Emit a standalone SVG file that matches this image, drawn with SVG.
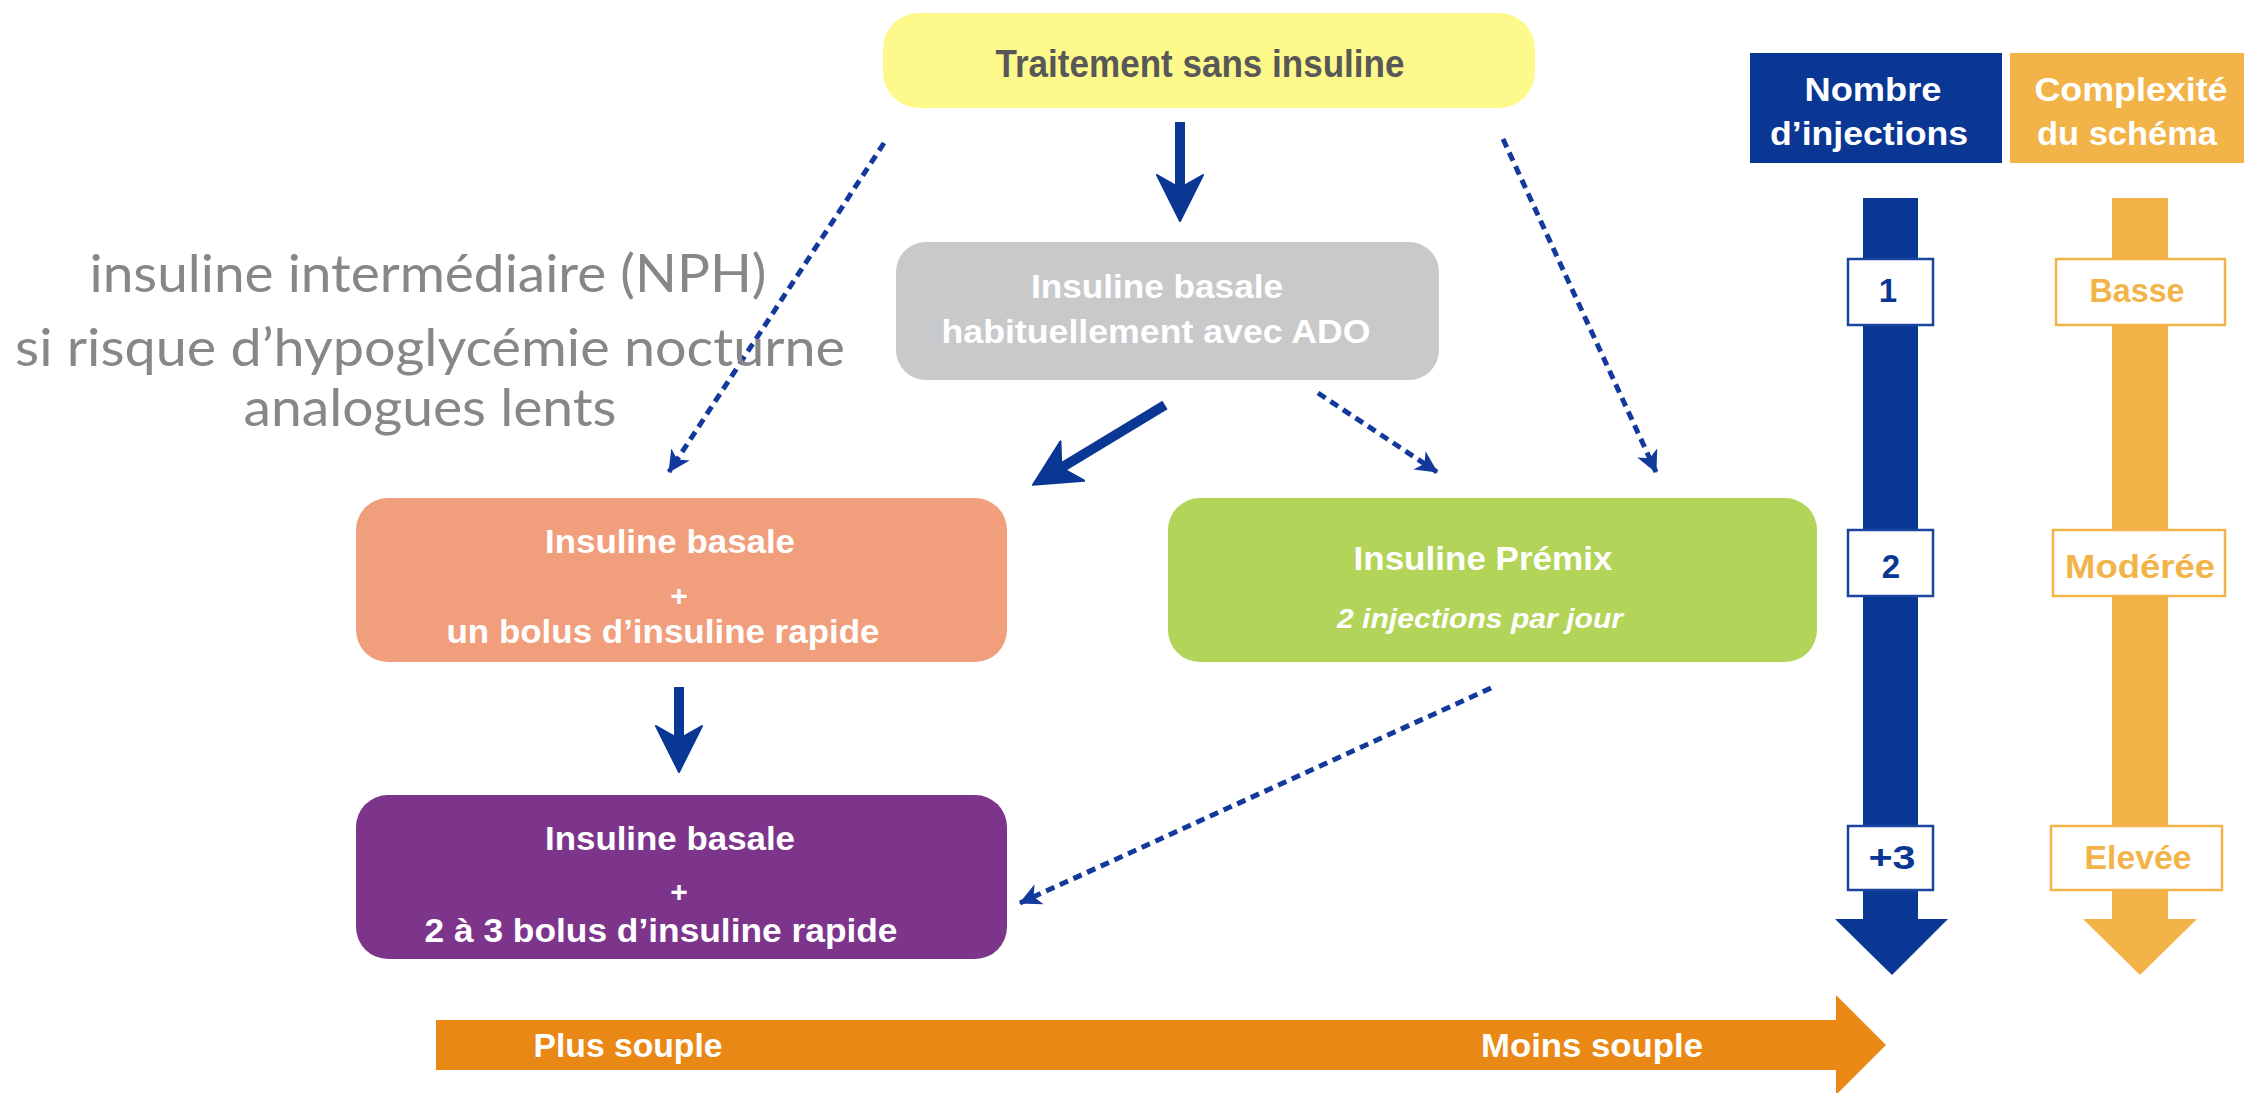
<svg xmlns="http://www.w3.org/2000/svg" width="2244" height="1093" viewBox="0 0 2244 1093">
<style>
.nt{font-family:"Liberation Sans",Arial,sans-serif;font-weight:bold;text-anchor:middle;fill:#ffffff}
.note{font-family:Lato,"Open Sans",sans-serif;font-size:52px;fill:#878787;text-anchor:middle}
.hd{font-family:"Liberation Sans",Arial,sans-serif;font-weight:bold;font-size:33px;fill:#ffffff;text-anchor:middle}
.lbl{font-family:"Liberation Sans",Arial,sans-serif;font-weight:bold;font-size:33px;text-anchor:middle}
.solid{stroke:#0a3694;stroke-width:10;fill:none;marker-end:url(#headBig)}
.dash{stroke:#12399b;stroke-width:5;fill:none;stroke-dasharray:9 6;marker-end:url(#headSmall)}
</style>
<defs>
<marker id="headBig" markerUnits="userSpaceOnUse" viewBox="0 0 48 48" markerWidth="48" markerHeight="48" refX="26" refY="24" orient="auto">
<path d="M1,1 L47,24 L1,47 L14,24 Z" fill="#0a3694" stroke="#0a3694" stroke-width="2" stroke-linejoin="round"/>
</marker>
<marker id="headSmall" markerUnits="userSpaceOnUse" viewBox="0 0 22 22" markerWidth="22" markerHeight="22" refX="21" refY="11" orient="auto">
<path d="M0,0 L22,11 L0,22 L6,11 Z" fill="#12399b"/>
</marker>
</defs>
<rect width="2244" height="1093" fill="#ffffff"/>

<g id="connectors">
<line class="solid" x1="1180" y1="122" x2="1180" y2="200"/>
<line class="solid" x1="679" y1="687" x2="679" y2="751"/>
<line class="solid" x1="1165" y1="405" x2="1051" y2="474"/>
<line class="dash" x1="884" y1="143" x2="669" y2="472"/>
<line class="dash" x1="1503" y1="139" x2="1656" y2="472"/>
<line class="dash" x1="1318" y1="393" x2="1437" y2="472"/>
<line class="dash" x1="1491" y1="688" x2="1020" y2="903"/>
</g>

<g id="n-traitement">
<rect x="883" y="13" width="652" height="95" rx="36" fill="#fdf98a"/>
<text class="nt" x="1200" y="77" font-size="38" style="fill:#585858" textLength="409" lengthAdjust="spacingAndGlyphs">Traitement sans insuline</text>
</g>

<g id="n-basale-ado">
<rect x="896" y="242" width="543" height="138" rx="30" fill="#c8c9cb"/>
<text class="nt" x="1157" y="298" font-size="33" textLength="252" lengthAdjust="spacingAndGlyphs">Insuline basale</text>
<text class="nt" x="1156" y="343" font-size="33" textLength="429" lengthAdjust="spacingAndGlyphs">habituellement avec ADO</text>
</g>

<g id="n-basal-bolus">
<rect x="356" y="498" width="651" height="164" rx="32" fill="#f09e7c"/>
<text class="nt" x="670" y="553" font-size="33" textLength="250" lengthAdjust="spacingAndGlyphs">Insuline basale</text>
<text class="nt" x="679" y="606" font-size="30">+</text>
<text class="nt" x="663" y="643" font-size="33" textLength="433" lengthAdjust="spacingAndGlyphs">un bolus d’insuline rapide</text>
</g>

<g id="n-premix">
<rect x="1168" y="498" width="649" height="164" rx="32" fill="#b2d458"/>
<text class="nt" x="1483" y="570" font-size="33" textLength="259" lengthAdjust="spacingAndGlyphs">Insuline Prémix</text>
<text class="nt" x="1480" y="628" font-size="28" font-style="italic" textLength="286" lengthAdjust="spacingAndGlyphs">2 injections par jour</text>
</g>

<g id="n-basal-bolus3">
<rect x="356" y="795" width="651" height="164" rx="32" fill="#7d358c"/>
<text class="nt" x="670" y="850" font-size="33" textLength="250" lengthAdjust="spacingAndGlyphs">Insuline basale</text>
<text class="nt" x="679" y="902" font-size="30">+</text>
<text class="nt" x="661" y="942" font-size="33" textLength="473" lengthAdjust="spacingAndGlyphs">2 à 3 bolus d’insuline rapide</text>
</g>

<g id="note">
<text class="note" x="428" y="292" textLength="677" lengthAdjust="spacingAndGlyphs">insuline intermédiaire (NPH)</text>
<text class="note" x="430" y="366" textLength="830" lengthAdjust="spacingAndGlyphs">si risque d’hypoglycémie nocturne</text>
<text class="note" x="430" y="426" textLength="373" lengthAdjust="spacingAndGlyphs">analogues lents</text>
</g>

<g id="scale-injections">
<rect x="1750" y="53" width="252" height="110" fill="#0a3694"/>
<text class="hd" x="1873" y="101" textLength="137" lengthAdjust="spacingAndGlyphs">Nombre</text>
<text class="hd" x="1869" y="145" textLength="198" lengthAdjust="spacingAndGlyphs">d’injections</text>
<rect x="1863" y="198" width="55" height="722" fill="#0a3694"/>
<polygon points="1835,919 1948,919 1892,975" fill="#0a3694"/>
<rect x="1848" y="259" width="85" height="66" fill="#ffffff" stroke="#1a44a0" stroke-width="2.5"/>
<text class="lbl" x="1888" y="302" fill="#0a3694">1</text>
<rect x="1848" y="530" width="85" height="66" fill="#ffffff" stroke="#1a44a0" stroke-width="2.5"/>
<text class="lbl" x="1891" y="578" fill="#0a3694">2</text>
<rect x="1848" y="826" width="85" height="64" fill="#ffffff" stroke="#1a44a0" stroke-width="2.5"/>
<text class="lbl" x="1892" y="869" fill="#0a3694" textLength="47" lengthAdjust="spacingAndGlyphs">+3</text>
</g>

<g id="scale-complexite">
<rect x="2010" y="53" width="234" height="110" fill="#f2b449"/>
<text class="hd" x="2131" y="101" textLength="193" lengthAdjust="spacingAndGlyphs">Complexité</text>
<text class="hd" x="2127" y="145" textLength="180" lengthAdjust="spacingAndGlyphs">du schéma</text>
<rect x="2112" y="198" width="56" height="722" fill="#f2b449"/>
<polygon points="2083,919 2197,919 2140,975" fill="#f2b449"/>
<rect x="2056" y="259" width="169" height="66" fill="#ffffff" stroke="#f2b449" stroke-width="2.5"/>
<text class="lbl" x="2137" y="302" fill="#f2b449" textLength="95" lengthAdjust="spacingAndGlyphs">Basse</text>
<rect x="2053" y="530" width="172" height="66" fill="#ffffff" stroke="#f2b449" stroke-width="2.5"/>
<text class="lbl" x="2140" y="578" fill="#f2b449" textLength="150" lengthAdjust="spacingAndGlyphs">Modérée</text>
<rect x="2051" y="826" width="171" height="64" fill="#ffffff" stroke="#f2b449" stroke-width="2.5"/>
<text class="lbl" x="2138" y="869" fill="#f2b449" textLength="107" lengthAdjust="spacingAndGlyphs">Elevée</text>
</g>

<g id="axis-souplesse">
<rect x="436" y="1020" width="1401" height="50" fill="#ea8816"/>
<polygon points="1836,995 1886,1045 1836,1095" fill="#ea8816"/>
<text class="nt" x="628" y="1057" font-size="33" textLength="189" lengthAdjust="spacingAndGlyphs">Plus souple</text>
<text class="nt" x="1592" y="1057" font-size="33" textLength="222" lengthAdjust="spacingAndGlyphs">Moins souple</text>
</g>
</svg>
